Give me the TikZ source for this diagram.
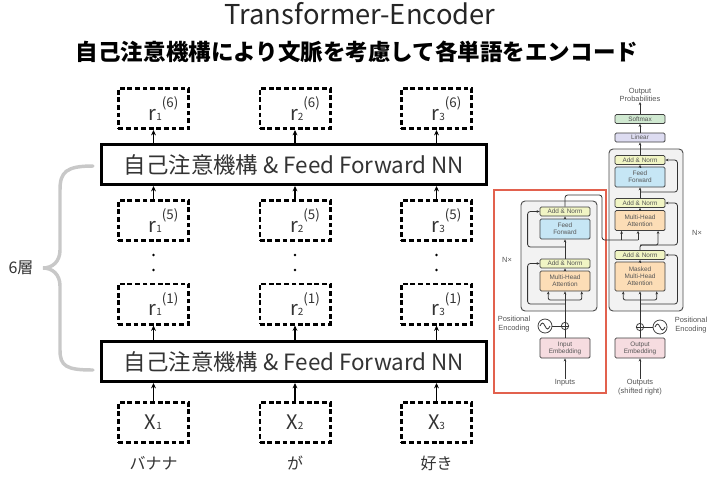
\documentclass[tikz,border=0pt]{standalone}
\usepackage{fontspec}
\setmainfont{Noto Sans CJK JP}
\newfontfamily\figsans{Liberation Sans}
\usetikzlibrary{arrows.meta}

\definecolor{anyellow}{HTML}{F1F5C4}
\definecolor{ffblue}{HTML}{C6E6F5}
\definecolor{mhaorange}{HTML}{FCDDB6}
\definecolor{embpink}{HTML}{F6DCE0}
\definecolor{linlilac}{HTML}{DDDCF1}
\definecolor{smgreen}{HTML}{D0E9D1}
\definecolor{blockgray}{HTML}{F2F2F2}
\definecolor{framered}{HTML}{E2614E}
\definecolor{bracegray}{HTML}{C8C8C8}
\definecolor{figtext}{HTML}{555555}

\newcommand{\idx}[1]{{\fontsize{7.5}{7.5}\selectfont #1}}
\newcommand{\lay}[1]{\raisebox{9.5pt}{\fontsize{10}{10}\selectfont(#1)}}

\begin{document}
\begin{tikzpicture}[x=0.75pt,y=-0.75pt,
    dashbox/.style={draw, line width=2pt, dash pattern=on 3.6pt off 2.1pt, minimum width=52.75pt, minimum height=30.25pt, inner sep=0pt, text=black!80, font=\fontsize{15}{15}\selectfont},
    layerbox/.style={draw, line width=2pt, minimum width=289pt, minimum height=30.25pt, inner sep=0pt, text=black!80, font=\fontsize{16.8}{17}\selectfont},
    wordlabel/.style={text=black!80, inner sep=0pt, font=\fontsize{12}{12}\selectfont},
    tip/.style={-{Stealth[length=4pt,width=3.6pt]}, line width=0.9pt},
    block/.style={draw=black!70, line width=0.7pt, fill=blockgray, rounded corners=3pt},
    sub/.style={draw=black!75, line width=0.6pt, rounded corners=1pt, minimum width=37.5pt, inner sep=0pt, align=center, text=figtext, font=\figsans\fontsize{4.8}{5.3}\selectfont},
    addnorm/.style={sub, fill=anyellow, minimum height=6.75pt},
    ffbox/.style={sub, fill=ffblue, minimum height=15pt},
    mhabox/.style={sub, fill=mhaorange, minimum height=15pt},
    embbox/.style={sub, fill=embpink, minimum height=15pt},
    sumnode/.style={circle, draw=black!75, line width=0.6pt, fill=white, minimum size=5.5pt, inner sep=0pt},
    pecircle/.style={circle, draw=black!75, line width=0.6pt, fill=white, minimum size=10.5pt, inner sep=0pt},
    flow/.style={-{Stealth[length=2.2pt,width=2pt]}, line width=0.6pt, draw=black!80},
    wire/.style={line width=0.6pt, draw=black!80},
    figlabel/.style={text=figtext, align=center, inner sep=0pt, font=\figsans\fontsize{5.6}{6.3}\selectfont}]

    \useasboundingbox (0,0) rectangle (712,479);
    \fill[white] (0,0) rectangle (712,479);

    % headings
    \node[text=black!85, font=\fontsize{20.5}{21}\selectfont] (title) at (360,14) {Transformer-Encoder};
    \node[font=\bfseries\fontsize{16.9}{18}\selectfont] (subtitle) at (357,52) {自己注意機構により文脈を考慮して各単語をエンコード};

    % encoder layers
    \node[layerbox] (top) at (294,164.5) {自己注意機構 \& Feed Forward NN};
    \node[layerbox] (bottom) at (294,361.5) {自己注意機構 \& Feed Forward NN};

    \foreach \i/\cx/\word in {1/153.5/バナナ, 2/295/が, 3/436.5/好き} {
        \node[dashbox] (r6\i) at (\cx,108.5) {\hspace*{15pt}r\idx{\i}\lay{6}};
        \node[dashbox] (r5\i) at (\cx,220.5) {\hspace*{15pt}r\idx{\i}\lay{5}};
        \node[dashbox] (r1\i) at (\cx,304) {\hspace*{15pt}r\idx{\i}\lay{1}};
        \node[dashbox] (x\i) at (\cx,422.5) {X\idx{\i}};
        \node[wordlabel] (w\i) at (\cx,463) {\word};
        \fill (\cx,255) circle (1.1pt) (\cx,270) circle (1.1pt);
        \draw[tip] (x\i.north) -- (x\i.north |- bottom.south);
        \draw[tip] (r1\i.south |- bottom.north) -- (r1\i.south);
        \draw[tip] (r5\i.north) -- (r5\i.north |- top.south);
        \draw[tip] (r6\i.south |- top.north) -- (r6\i.south);
    }

    % brace for the 6 layers
    \draw[bracegray, line width=2.6pt, line cap=round] (93,166) .. controls (66,166) and (60,172) .. (60,190) -- (60,250)
        .. controls (60,262) and (52,268) .. (43,268) .. controls (52,268) and (60,274) .. (60,286) -- (60,350)
        .. controls (60,366) and (66,370) .. (93,370);
    \node[text=black!80, font=\fontsize{12}{12}\selectfont] (layers) at (21,268) {6層};

    % transformer figure
    \draw[framered, line width=1.6pt] (494,190) rectangle (606,393);
    \node[block, minimum width=57pt, minimum height=82.5pt] (encblock) at (559,256) {};
    \node[block, minimum width=55.5pt, minimum height=121.5pt] (decblock) at (646,230) {};

    \node[addnorm] (encAN2) at (565,211.5) {Add \& Norm};
    \node[ffbox] (encFF) at (565,229) {Feed\\Forward};
    \node[addnorm] (encAN1) at (565,263.5) {Add \& Norm};
    \node[mhabox] (encMHA) at (565,281) {Multi-Head\\Attention};
    \node[sumnode] (encSum) at (565,326) {};
    \node[pecircle] (encPE) at (545,326) {};
    \node[embbox] (encEmb) at (565,348) {Input\\Embedding};
    \node[figlabel] (inputs) at (565,383) {Inputs};
    \node[figlabel] (encPElabel) at (514,324) {Positional\\Encoding};
    \node[figlabel] (encN) at (507,260) {N×};

    \node[sub, fill=smgreen, minimum height=6.75pt] (smax) at (640,119) {Softmax};
    \node[sub, fill=linlilac, minimum height=6.75pt] (lin) at (640,137.5) {Linear};
    \node[addnorm] (decAN3) at (640,160) {Add \& Norm};
    \node[ffbox] (decFF) at (640,177) {Feed\\Forward};
    \node[addnorm] (decAN2) at (640,203) {Add \& Norm};
    \node[mhabox] (decMHA) at (640,220.5) {Multi-Head\\Attention};
    \node[addnorm] (decAN1) at (640,255) {Add \& Norm};
    \node[mhabox, minimum height=21.75pt] (decMMHA) at (640,276.5) {Masked\\Multi-Head\\Attention};
    \node[sumnode] (decSum) at (640,327) {};
    \node[pecircle] (decPE) at (660,327) {};
    \node[embbox] (decEmb) at (640,348) {Output\\Embedding};
    \node[figlabel] (outputs) at (640,387) {Outputs\\(shifted right)};
    \node[figlabel] (decPElabel) at (691,325) {Positional\\Encoding};
    \node[figlabel] (decN) at (697,233) {N×};
    \node[figlabel] (probs) at (640,95) {Output\\Probabilities};

    % plus signs and sine waves
    \draw[wire] (encSum.north) -- (encSum.south) (encSum.west) -- (encSum.east);
    \draw[wire] (decSum.north) -- (decSum.south) (decSum.west) -- (decSum.east);
    \draw[wire] (encPE.center) ++(-5,0) sin ++(2.5,-3) cos ++(2.5,3) sin ++(2.5,3) cos ++(2.5,-3);
    \draw[wire] (decPE.center) ++(-5,0) sin ++(2.5,-3) cos ++(2.5,3) sin ++(2.5,3) cos ++(2.5,-3);

    % encoder wiring
    \coordinate (encSplit) at (565,300);
    \coordinate (encRes1) at (565,304);
    \coordinate (encRes2) at (565,247);
    \draw[flow] (inputs.north) -- (encEmb.south);
    \draw[wire] (encEmb.north) -- (encSum.south);
    \draw[wire] (encPE.east) -- (encSum.west);
    \draw[flow] (encSum.north) -- (encMHA.south);
    \draw[flow, rounded corners=1.5pt] (encSplit) -| ([xshift=6.5pt]encMHA.south west);
    \draw[flow, rounded corners=1.5pt] (encSplit) -| ([xshift=-6.5pt]encMHA.south east);
    \draw[flow, rounded corners=2pt] (encRes1) -| ([xshift=-9pt]encAN1.west) -- (encAN1.west);
    \draw[flow] (encMHA.north) -- (encAN1.south);
    \draw[flow] (encAN1.north) -- (encFF.south);
    \draw[flow, rounded corners=2pt] (encRes2) -| ([xshift=-9pt]encAN2.west) -- (encAN2.west);
    \draw[flow] (encFF.north) -- (encAN2.south);

    % encoder output into decoder
    \coordinate (encTurn) at (602,195);
    \coordinate (kvRail) at (638,240);
    \draw[wire, rounded corners=2pt] (encAN2.north) |- (encTurn) |- (kvRail);
    \draw[flow] (kvRail) -- ([xshift=-1.5pt]decMHA.south);
    \draw[flow] ([xshift=5.25pt]decMHA.south west |- kvRail) -- ([xshift=5.25pt]decMHA.south west);

    % decoder wiring
    \coordinate (decSplit) at (640,300);
    \coordinate (decRes1) at (640,304);
    \coordinate (decRes2) at (640,245);
    \coordinate (decRes3) at (640,192);
    \draw[flow] (outputs.north) -- (decEmb.south);
    \draw[wire] (decEmb.north) -- (decSum.south);
    \draw[wire] (decPE.west) -- (decSum.east);
    \draw[flow] (decSum.north) -- (decMMHA.south);
    \draw[flow, rounded corners=1.5pt] (decSplit) -| ([xshift=6.5pt]decMMHA.south west);
    \draw[flow, rounded corners=1.5pt] (decSplit) -| ([xshift=-6.5pt]decMMHA.south east);
    \draw[flow, rounded corners=2pt] (decRes1) -| ([xshift=9pt]decAN1.east) -- (decAN1.east);
    \draw[flow] (decMMHA.north) -- (decAN1.south);
    \draw[flow, rounded corners=1.5pt] (decAN1.north) -- (decRes2) -| ([xshift=-5.5pt]decMHA.south east);
    \draw[flow, rounded corners=2pt] (decRes2) -| ([xshift=9pt]decAN2.east) -- (decAN2.east);
    \draw[flow] (decMHA.north) -- (decAN2.south);
    \draw[flow] (decAN2.north) -- (decFF.south);
    \draw[flow, rounded corners=2pt] (decRes3) -| ([xshift=9pt]decAN3.east) -- (decAN3.east);
    \draw[flow] (decFF.north) -- (decAN3.south);
    \draw[flow] (decAN3.north) -- (lin.south);
    \draw[flow] (lin.north) -- (smax.south);
    \draw[flow] (smax.north) -- (probs.south);
\end{tikzpicture}
\end{document}
